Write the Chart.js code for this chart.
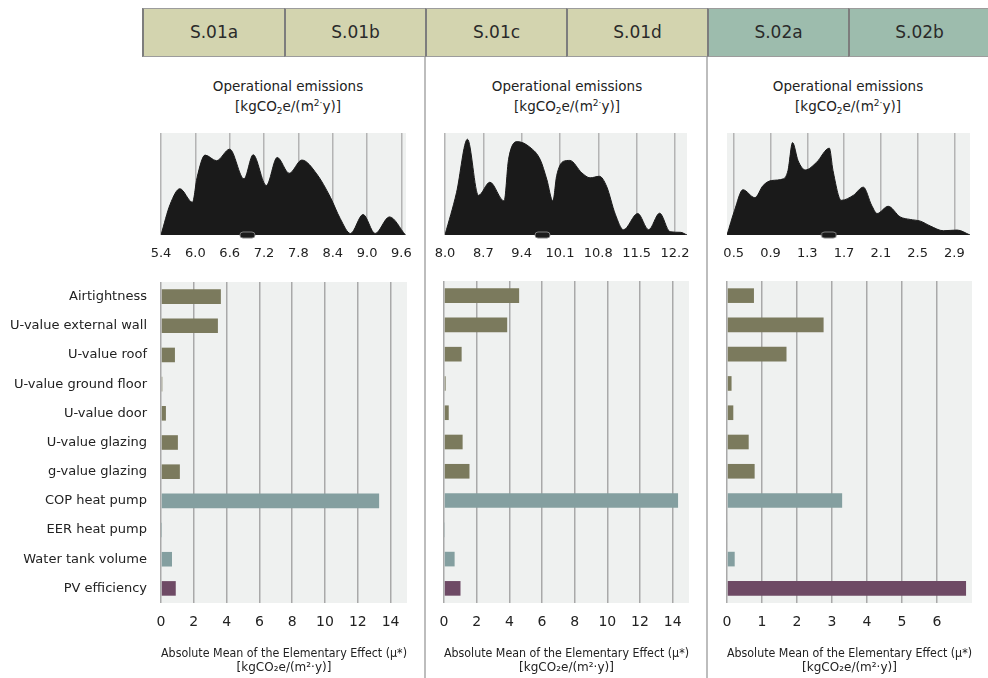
<!DOCTYPE html>
<html>
<head>
<meta charset="utf-8">
<script src="https://cdn.jsdelivr.net/npm/chart.js@4.4.1/dist/chart.umd.min.js"></script>
<style>
  body { margin:0; width:988px; height:678px; position:relative; overflow:hidden; background:#fff;
         font-family:"DejaVu Sans", sans-serif; color:#222; }
  .abs { position:absolute; }
  .hdr { position:absolute; top:8px; height:47px; box-sizing:content-box; border-top:1px solid #9c9c9c;
         border-bottom:1px solid #9c9c9c; border-left:2px solid #7d7d7d; font-size:17px; line-height:47px;
         text-align:center; color:#2a2a2a; }
  .sep { position:absolute; top:57px; width:2px; height:621px; background:#bdbdbd; }
  .ttl { position:absolute; top:77px; width:280px; text-align:center; font-size:13.5px; line-height:19.5px; color:#222; }
  .ttl sub { font-size:9px; vertical-align:-3px; line-height:0; }
  .ttl sup { font-size:9px; vertical-align:5px; line-height:0; }
  canvas { display:block; }
</style>
</head>
<body>
<div id="header"></div>
<div class="sep" style="left:424px"></div>
<div class="sep" style="left:706px"></div>

<div class="ttl" style="left:148px">Operational emissions<br>[kgCO<sub>2</sub>e/(m<sup>2·</sup>y)]</div>
<div class="ttl" style="left:427px">Operational emissions<br>[kgCO<sub>2</sub>e/(m<sup>2·</sup>y)]</div>
<div class="ttl" style="left:708px">Operational emissions<br>[kgCO<sub>2</sub>e/(m<sup>2·</sup>y)]</div>

<div class="abs" style="left:142px;top:120px"><canvas id="dens1" width="283" height="150"></canvas></div>
<div class="abs" style="left:426px;top:120px"><canvas id="dens2" width="281" height="150"></canvas></div>
<div class="abs" style="left:708px;top:120px"><canvas id="dens3" width="280" height="150"></canvas></div>

<div class="abs" style="left:0px;top:270px"><canvas id="bar1" width="420" height="408"></canvas></div>
<div class="abs" style="left:426px;top:270px"><canvas id="bar2" width="282" height="408"></canvas></div>
<div class="abs" style="left:708px;top:270px"><canvas id="bar3" width="280" height="408"></canvas></div>

<script>
// Scenario header
const SCENARIOS = ['S.01a', 'S.01b', 'S.01c', 'S.01d', 'S.02a', 'S.02b'];
const SCENARIO_COLORS = ['#d3d4af', '#d3d4af', '#d3d4af', '#d3d4af', '#9dbcad', '#9dbcad'];

// Input parameters screened with the Morris method
const PARAMS = ['Airtightness', 'U-value external wall', 'U-value roof', 'U-value ground floor',
  'U-value door', 'U-value glazing', 'g-value glazing', 'COP heat pump', 'EER heat pump',
  'Water tank volume', 'PV efficiency'];
const PARAM_GROUP = ['envelope', 'envelope', 'envelope', 'envelope', 'envelope', 'envelope', 'envelope',
  'systems', 'systems', 'systems', 'pv'];
const GROUP_COLORS = { envelope: '#7b7a5d', systems: '#849fa0', pv: '#6e4a65' };

// mu* values [kgCO2e/(m2·y)]
const MU_S01AB = [3.65, 3.47, 0.85, 0.08, 0.30, 1.03, 1.15, 13.30, 0.02, 0.67, 0.90];
const MU_S01CD = [4.60, 3.87, 1.08, 0.10, 0.29, 1.14, 1.56, 14.33, 0.03, 0.65, 1.01];
const MU_S02AB = [0.77, 2.76, 1.70, 0.13, 0.18, 0.62, 0.79, 3.29, 0.02, 0.22, 6.83];

// Distribution of operational emissions (kernel density outline)
const DENS1_X = [5.40, 5.56, 5.73, 5.95, 6.03, 6.17, 6.37, 6.60, 6.85, 7.01, 7.24, 7.43, 7.64, 7.86, 8.12, 8.36, 8.53, 8.71, 8.93, 9.14, 9.39, 9.67];
const DENS1_Y = [0, 31, 46.7, 33, 58, 80.7, 75, 86.7, 56.7, 81, 50, 78.3, 62.3, 75.7, 61.7, 38, 16.7, 1.5, 20.7, 1.5, 18.3, 0];
const DENS2_X = [8.00, 8.21, 8.41, 8.61, 8.82, 9.08, 9.16, 9.32, 9.55, 9.74, 9.86, 9.97, 10.04, 10.16, 10.28, 10.50, 10.65, 10.82, 10.95, 11.11, 11.26, 11.52, 11.72, 11.92, 12.11, 12.30, 12.42];
const DENS2_Y = [0, 42.7, 96.7, 40, 53.3, 34.3, 76, 94.3, 88.7, 76, 56, 34.3, 60, 74.3, 75.3, 62.7, 57.7, 59.3, 49.3, 21, 5.3, 21.7, 5.3, 22, 3.3, 2.7, 0];
const DENS3_X = [0.427, 0.51, 0.60, 0.73, 0.82, 0.91, 1.04, 1.09, 1.14, 1.20, 1.28, 1.40, 1.54, 1.58, 1.67, 1.80, 1.91, 2.00, 2.06, 2.18, 2.31, 2.42, 2.53, 2.64, 2.78, 2.93, 3.07];
const DENS3_Y = [0, 25, 45.7, 37.7, 50, 55, 56.7, 65, 93.3, 75, 65.7, 73.3, 87.7, 65, 35, 40, 48.3, 30, 21.7, 29, 18.3, 15.7, 14, 9, 4.3, 5, 0];

// Mean markers
const MEAN1 = 6.91, MEAN2 = 9.78, MEAN3 = 1.535;

// Tick labels
const DENS1_TICKS = ['5.4', '6.0', '6.6', '7.2', '7.8', '8.4', '9.0', '9.6'];
const DENS2_TICKS = ['8.0', '8.7', '9.4', '10.1', '10.8', '11.5', '12.2'];
const DENS3_TICKS = ['0.5', '0.9', '1.3', '1.7', '2.1', '2.5', '2.9'];

const AXIS_TITLE = ['Absolute Mean of the Elementary Effect (\u03bc*)', '[kgCO\u2082e/(m\u00b2\u00b7y)]'];

// header boxes
const hdr = document.getElementById('header');
const HDR_LEFT = 142, HDR_W = [140, 139, 139, 139, 139, 139];
let xPos = HDR_LEFT;
SCENARIOS.forEach((s, i) => {
  const d = document.createElement('div');
  d.className = 'hdr';
  d.style.left = xPos + 'px';
  d.style.width = HDR_W[i] + 'px';
  d.style.background = SCENARIO_COLORS[i];
  d.textContent = s;
  hdr.appendChild(d);
  xPos += HDR_W[i] + 2;
});

Chart.defaults.font.family = '"DejaVu Sans", sans-serif';
Chart.defaults.color = '#222';

const plotBg = {
  id: 'plotBg',
  beforeDraw(chart, args, opts) {
    const { ctx, chartArea: a } = chart;
    ctx.save();
    ctx.fillStyle = opts.color || '#eff1f0';
    ctx.fillRect(a.left, a.top, a.right - a.left, a.bottom - a.top);
    ctx.restore();
  }
};

function pillMarker() {
  const c = document.createElement('canvas');
  c.width = 17; c.height = 8;
  const g = c.getContext('2d');
  const x = 1, y = 1, w = 15, h = 6, r = 3;
  g.beginPath();
  g.moveTo(x + r, y);
  g.lineTo(x + w - r, y);
  g.arc(x + w - r, y + r, r, -Math.PI / 2, Math.PI / 2);
  g.lineTo(x + r, y + h);
  g.arc(x + r, y + r, r, Math.PI / 2, Math.PI * 1.5);
  g.closePath();
  g.fillStyle = '#1b1b1b';
  g.fill();
  g.strokeStyle = '#808080';
  g.lineWidth = 1;
  g.stroke();
  return c;
}
const PILL = pillMarker();

function densityChart(id, xs, ys, ticks, min, max, mean, padding) {
  const pts = xs.map((x, i) => ({ x: x, y: ys[i] }));
  new Chart(document.getElementById(id), {
    type: 'line',
    data: {
      datasets: [
        { data: [{ x: mean, y: 0 }], showLine: false, pointStyle: PILL, pointRadius: 8,
          clip: false, order: 0 },
        { data: pts, fill: 'origin', backgroundColor: '#1a1a1a', borderColor: '#1a1a1a', borderWidth: 1,
          pointRadius: 0, cubicInterpolationMode: 'monotone', order: 1 }
      ]
    },
    options: {
      responsive: false, animation: false, devicePixelRatio: 1,
      events: [],
      layout: { padding: padding },
      plugins: { legend: { display: false }, tooltip: { enabled: false }, plotBg: { color: '#eff1f0' } },
      scales: {
        x: {
          type: 'linear', min: min, max: max,
          afterBuildTicks(s) { s.ticks = ticks.map(t => ({ value: parseFloat(t) })); },
          afterFit(s) { s.height = 35; s.paddingLeft = 0; s.paddingRight = 0; },
          ticks: { callback: (v, i) => ticks[i], font: { size: 13 }, color: '#222', padding: 11, maxRotation: 0, autoSkip: false },
          grid: { color: '#b4b4b4', lineWidth: 1.5, drawTicks: false },
          border: { display: false }
        },
        y: { display: false, min: 0, max: 103 }
      }
    },
    plugins: [plotBg]
  });
}

function barChart(id, values, xMax, step, showLabels, padding) {
  new Chart(document.getElementById(id), {
    type: 'bar',
    data: {
      labels: PARAMS,
      datasets: [{
        data: values,
        backgroundColor: PARAM_GROUP.map(g => GROUP_COLORS[g]),
        barPercentage: 0.5, categoryPercentage: 1
      }]
    },
    options: {
      indexAxis: 'y', responsive: false, animation: false, devicePixelRatio: 1,
      events: [],
      layout: { padding: padding },
      plugins: { legend: { display: false }, tooltip: { enabled: false }, plotBg: { color: '#eff1f0' } },
      scales: {
        x: {
          type: 'linear', min: 0, max: xMax,
          afterBuildTicks(s) { s.ticks = s.ticks.filter(t => t.value < xMax); },
          ticks: { stepSize: step, includeBounds: false, font: { size: 14 }, color: '#222', padding: 11, maxRotation: 0 },
          grid: { color: '#a9a9a9', lineWidth: 1.5, drawTicks: false },
          border: { display: false },
          title: { display: true, text: AXIS_TITLE, font: { size: 12 }, color: '#222', padding: { top: 0, bottom: 3 } },
          afterFit(s) { s.height = 75; s.paddingLeft = 0; s.paddingRight = 0; }
        },
        y: {
          display: showLabels,
          ticks: { font: { size: 13 }, color: '#222', padding: 14 },
          grid: { display: false, drawTicks: false },
          border: { display: false },
          afterFit(s) {
            s.width = showLabels ? 161 : 0;
            s.paddingTop = 0; s.paddingBottom = 0;
          }
        }
      }
    },
    plugins: [plotBg]
  });
}

densityChart('dens1', DENS1_X, DENS1_Y, DENS1_TICKS, 5.4, 9.68, MEAN1, { left: 19, right: 19, top: 13, bottom: 0 });
densityChart('dens2', DENS2_X, DENS2_Y, DENS2_TICKS, 8.0, 12.42, MEAN2, { left: 19, right: 20, top: 13, bottom: 0 });
densityChart('dens3', DENS3_X, DENS3_Y, DENS3_TICKS, 0.427, 3.07, MEAN3, { left: 19, right: 18, top: 13, bottom: 0 });

barChart('bar1', MU_S01AB, 15, 2, true, { left: 0, right: 13, top: 12, bottom: 0 });
barChart('bar2', MU_S01CD, 15, 2, false, { left: 18, right: 19, top: 11, bottom: 0 });
barChart('bar3', MU_S02AB, 7, 1, false, { left: 19, right: 16, top: 11, bottom: 0 });
</script>
</body>
</html>
